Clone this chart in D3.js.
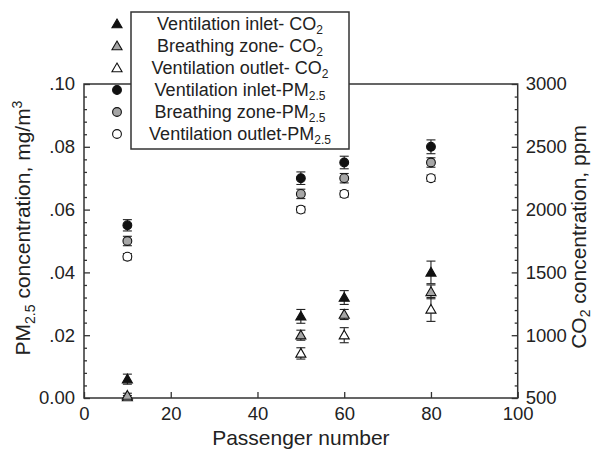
<!DOCTYPE html>
<html>
<head>
<meta charset="utf-8">
<script src="https://cdn.jsdelivr.net/npm/d3@7"></script>
<style>
  body { margin: 0; background: #fff; }
  svg { display: block; font-family: "Liberation Sans", Arial, sans-serif; }
  .axis text { fill: #222; }
  .axis line { stroke: #333; stroke-width: 1.3; }
</style>
</head>
<body>
<script>
// passenger numbers on the x axis
const passengers = [10, 50, 60, 80];

// CO2 (ppm), mean and error
const co2Inlet = [650, 1150, 1300, 1500];
const co2InletErr = [40, 55, 55, 90];
const co2Breath = [520, 1000, 1165, 1345];
const co2BreathErr = [18, 40, 40, 55];
const co2Outlet = [508, 855, 1000, 1205];
const co2OutletErr = [12, 45, 60, 95];

// PM2.5 (mg/m3), mean and error
const pmInlet = [0.055, 0.070, 0.075, 0.080];
const pmInletErr = [0.0018, 0.002, 0.002, 0.0022];
const pmBreath = [0.050, 0.065, 0.070, 0.075];
const pmBreathErr = [0.0015, 0.0015, 0.0015, 0.0015];
const pmOutlet = [0.045, 0.060, 0.065, 0.070];
const pmOutletErr = [0.001, 0.001, 0.001, 0.001];

// tick values
const xTicks = [0, 20, 40, 60, 80, 100];
const pmTicks = [0, 0.02, 0.04, 0.06, 0.08, 0.10];
const co2Ticks = [500, 1000, 1500, 2000, 2500, 3000];

(function() {
  const width = 596, height = 452;
  const pLeft = 84, pRight = 517.7, pTop = 84, pBottom = 398;

  const svg = d3.select('body').append('svg')
    .attr('width', width)
    .attr('height', height);

  const x = d3.scaleLinear().domain([0, 100]).range([pLeft, pRight]);
  const yPm = d3.scaleLinear().domain([0, 0.10]).range([pBottom, pTop]);
  const yCo2 = d3.scaleLinear().domain([500, 3000]).range([pBottom, pTop]);

  // minor ticks (5 intervals per major)
  const pmMinor = d3.range(0, 0.1001, 0.004).filter(v => Math.abs(v / 0.02 - Math.round(v / 0.02)) > 1e-6);
  const co2Minor = d3.range(500, 3001, 100).filter(v => v % 500 !== 0);

  // left axis
  const pmFormat = d => d === 0 ? '0.00' : d3.format('.2f')(d).replace(/^0/, '');
  svg.append('g').attr('class', 'axis')
    .attr('transform', `translate(${pLeft},0)`)
    .call(d3.axisLeft(yPm).tickValues(pmTicks).tickFormat(pmFormat).tickSize(-6).tickPadding(9))
    .call(g => g.select('.domain').remove())
    .selectAll('text').style('font-size', '18.5px');
  svg.append('g').attr('class', 'axis')
    .attr('transform', `translate(${pLeft},0)`)
    .call(d3.axisLeft(yPm).tickValues(pmMinor).tickFormat('').tickSize(-3))
    .call(g => g.select('.domain').remove());

  // right axis
  svg.append('g').attr('class', 'axis')
    .attr('transform', `translate(${pRight},0)`)
    .call(d3.axisRight(yCo2).tickValues(co2Ticks).tickFormat(d3.format('d')).tickSize(-6).tickPadding(8))
    .call(g => g.select('.domain').remove())
    .selectAll('text').style('font-size', '18.5px');
  svg.append('g').attr('class', 'axis')
    .attr('transform', `translate(${pRight},0)`)
    .call(d3.axisRight(yCo2).tickValues(co2Minor).tickFormat('').tickSize(-3))
    .call(g => g.select('.domain').remove());

  // bottom axis
  svg.append('g').attr('class', 'axis')
    .attr('transform', `translate(0,${pBottom})`)
    .call(d3.axisBottom(x).tickValues(xTicks).tickSize(-6).tickPadding(9))
    .call(g => g.select('.domain').remove())
    .selectAll('text').style('font-size', '18.5px');

  // frame
  svg.append('rect')
    .attr('x', pLeft).attr('y', pTop)
    .attr('width', pRight - pLeft).attr('height', pBottom - pTop)
    .attr('fill', 'none').attr('stroke', '#333').attr('stroke-width', 1.5);

  // series definitions
  const triangle = d3.symbol().type(d3.symbolTriangle).size(44);
  const series = [
    { name: 'Ventilation outlet- CO2', y: yCo2, mean: co2Outlet, err: co2OutletErr, shape: 'tri', fill: '#fff' },
    { name: 'Breathing zone- CO2', y: yCo2, mean: co2Breath, err: co2BreathErr, shape: 'tri', fill: '#a6a6a6' },
    { name: 'Ventilation inlet- CO2', y: yCo2, mean: co2Inlet, err: co2InletErr, shape: 'tri', fill: '#111' },
    { name: 'Ventilation outlet-PM2.5', y: yPm, mean: pmOutlet, err: pmOutletErr, shape: 'circle', fill: '#fff' },
    { name: 'Breathing zone-PM2.5', y: yPm, mean: pmBreath, err: pmBreathErr, shape: 'circle', fill: '#a6a6a6' },
    { name: 'Ventilation inlet-PM2.5', y: yPm, mean: pmInlet, err: pmInletErr, shape: 'circle', fill: '#111' }
  ];

  function drawMarker(g, s, cx, cy) {
    if (s.shape === 'tri') {
      g.append('path')
        .attr('d', triangle)
        .attr('transform', `translate(${cx},${cy + 0.8})`)
        .attr('fill', s.fill).attr('stroke', '#111').attr('stroke-width', 1.1);
    } else {
      g.append('circle')
        .attr('cx', cx).attr('cy', cy).attr('r', 4.4)
        .attr('fill', s.fill).attr('stroke', '#111').attr('stroke-width', 1.1);
    }
  }

  const plot = svg.append('g');
  series.forEach(s => {
    const pts = passengers.map((p, i) => ({ p, m: s.mean[i], e: s.err[i] }));
    const g = plot.append('g');
    pts.forEach(d => {
      const cx = x(d.p);
      const y1 = s.y(d.m + d.e), y2 = s.y(d.m - d.e);
      g.append('line').attr('x1', cx).attr('x2', cx).attr('y1', y1).attr('y2', y2)
        .attr('stroke', '#222').attr('stroke-width', 1.1);
      [y1, y2].forEach(yy => g.append('line')
        .attr('x1', cx - 4.5).attr('x2', cx + 4.5).attr('y1', yy).attr('y2', yy)
        .attr('stroke', '#222').attr('stroke-width', 1.1));
    });
    pts.forEach(d => drawMarker(g, s, x(d.p), s.y(d.m)));
  });

  // legend
  const legendOrder = [2, 1, 0, 5, 4, 3];
  const legend = svg.append('g');
  legend.append('rect')
    .attr('x', 131).attr('y', 12).attr('width', 218).attr('height', 137)
    .attr('fill', '#fff').attr('stroke', '#333').attr('stroke-width', 1.5);
  legendOrder.forEach((k, i) => {
    const s = series[k];
    const base = 30 + i * 22;
    drawMarker(legend, s, 117, base - 6);
    const parts = s.name.match(/^(.*?)(CO|PM)(2\.5|2)$/);
    const t = legend.append('text')
      .attr('x', 240).attr('y', base)
      .attr('text-anchor', 'middle')
      .style('font-size', '18px').attr('fill', '#222');
    t.append('tspan').text(parts[1] + parts[2]);
    t.append('tspan').attr('dy', 4).style('font-size', '12px').text(parts[3]);
  });

  // axis titles
  svg.append('text')
    .attr('x', (pLeft + pRight) / 2).attr('y', 445)
    .attr('text-anchor', 'middle')
    .style('font-size', '21px').attr('fill', '#222')
    .text('Passenger number');

  const yl = svg.append('text')
    .attr('transform', 'translate(30,228) rotate(-90)')
    .attr('text-anchor', 'middle')
    .style('font-size', '21px').attr('fill', '#222');
  yl.append('tspan').text('PM');
  yl.append('tspan').attr('dy', 5).style('font-size', '14px').text('2.5');
  yl.append('tspan').attr('dy', -5).text(' concentration, mg/m');
  yl.append('tspan').attr('dy', -8).style('font-size', '14px').text('3');

  const yr = svg.append('text')
    .attr('transform', 'translate(586,237) rotate(-90)')
    .attr('text-anchor', 'middle')
    .style('font-size', '21px').attr('fill', '#222');
  yr.append('tspan').text('CO');
  yr.append('tspan').attr('dy', 4).style('font-size', '14px').text('2');
  yr.append('tspan').attr('dy', -4).text(' concentration, ppm');
})();
</script>
</body>
</html>
